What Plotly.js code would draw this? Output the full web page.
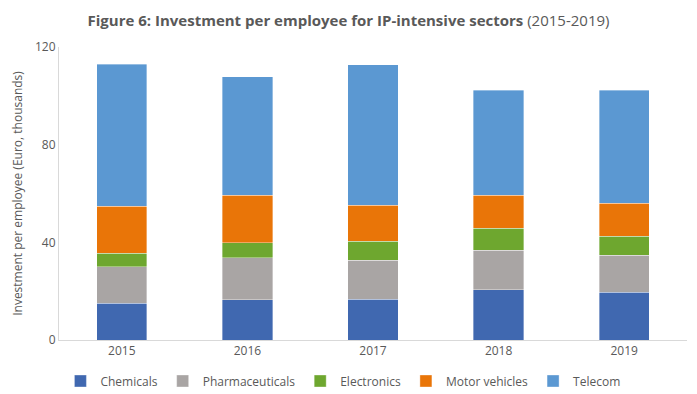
<!DOCTYPE html>
<html><head><meta charset="utf-8">
<script src="https://cdn.plot.ly/plotly-3.0.1.min.js"></script>
<style>html,body{margin:0;padding:0;background:#fff}#chart{width:697px;height:394px}</style>
</head><body><div id="chart"></div>
<script>
const years = ['2015','2016','2017','2018','2019'];
const chemicals = [15.0, 16.4, 16.6, 20.5, 19.5];
const pharmaceuticals = [14.9, 17.2, 16.0, 16.3, 15.3];
const electronics = [5.6, 6.2, 7.8, 8.9, 7.6];
const motorVehicles = [19.2, 19.4, 14.7, 13.5, 13.6];
const telecom = [58.3, 48.6, 57.6, 43.0, 46.2];
const seriesNames = ['Chemicals','Pharmaceuticals','Electronics','Motor vehicles','Telecom'];
const colors = ['#4068B0','#A9A5A4','#6EA72F','#E97508','#5B98D2'];
const values = [chemicals, pharmaceuticals, electronics, motorVehicles, telecom];
const font = 'Open Sans, Liberation Sans, sans-serif';
const traces = values.map((v,i)=>({
  type:'bar', x: years, y: v, name: seriesNames[i],
  marker:{color: colors[i], line:{color:'rgba(255,255,255,0.6)', width:0.6}},
  hoverinfo:'none'
}));
const layout = {
  width:697, height:394,
  margin:{l:59, r:10, t:47, b:54},
  barmode:'stack', bargap:0.6,
  paper_bgcolor:'#fff', plot_bgcolor:'#fff',
  font:{family:font, size:12, color:'#595959'},
  title:{text:'<b>Figure 6: Investment per employee for IP-intensive sectors</b> (2015-2019)',
    x:0.5, xanchor:'center', xref:'container', y:0.948, yanchor:'middle', yref:'container',
    font:{family:font, size:15, color:'#595959'}},
  xaxis:{showgrid:false, showline:true, linecolor:'#D9D9D9', linewidth:1, ticks:'',
    tickfont:{size:12, color:'#595959'}, fixedrange:true},
  yaxis:{range:[0,120], tickvals:[0,40,80,120], showgrid:false, zeroline:false,
    showline:true, linecolor:'#D9D9D9', linewidth:1, ticks:'', ticklen:0,
    tickfont:{size:12, color:'#595959'},
    title:{text:'Investment per employee (Euro, thousands)', font:{size:12, color:'#595959'}, standoff:9}},
  showlegend:true,
  legend:{orientation:'h', xref:'container', yref:'container', x:0.492, xanchor:'center',
    y:0.033, yanchor:'middle',
    traceorder:'normal', itemwidth:30, font:{size:12, color:'#595959'}}
};
Plotly.newPlot('chart', traces, layout, {displayModeBar:false, staticPlot:true});
</script></body></html>
